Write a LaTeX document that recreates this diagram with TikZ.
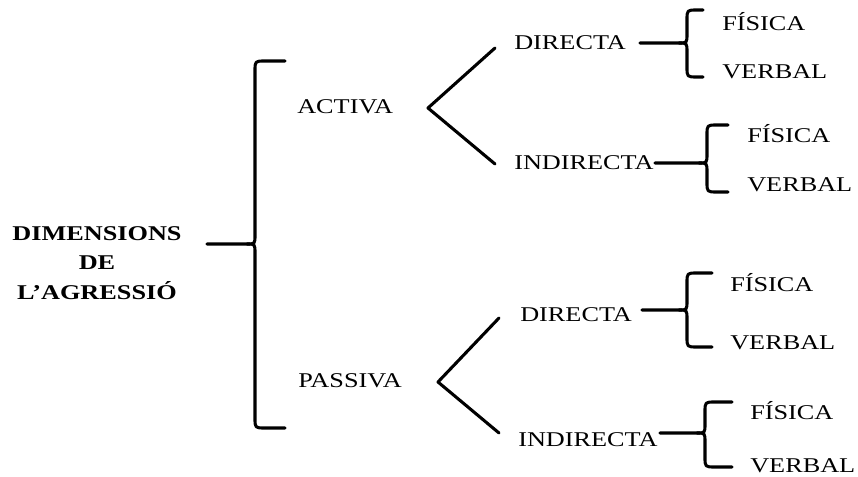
\documentclass[tikz,border=0pt]{standalone}
\usepackage{fontspec}
\setmainfont{Liberation Serif}[FakeStretch=1.25]

\tikzset{
	txt/.style={anchor=base west, inner sep=0pt, font=\fontsize{15.75}{22}\selectfont},
	ratlla/.style={line width=2.3pt, line cap=round, line join=round},
}
% clau: inici de la tija, x vertical, y punta, y dalt, y baix, x extrems
\newcommand{\clau}[6]{%
	\draw[ratlla] (#1,#3) -- (#2-8,#3) .. controls (#2,#3) .. (#2,#3-9) -- (#2,#4+10) .. controls (#2,#4) .. (#2+10,#4) -- (#6,#4);
	\draw[ratlla] (#2-8,#3) .. controls (#2,#3) .. (#2,#3+9) -- (#2,#5-10) .. controls (#2,#5) .. (#2+10,#5) -- (#6,#5);}

\begin{document}
\begin{tikzpicture}[x=0.75pt,y=-0.75pt]
	\useasboundingbox (0,0) rectangle (858,477);
	\node[txt, anchor=center, align=center, font=\fontsize{15.75}{22.1}\selectfont\bfseries] (dim) at (97,263) {DIMENSIONS\\DE\\L’AGRESSIÓ};
		\node[txt] (A) at (297,114) {ACTIVA};
		\node[txt] (P) at (298,388) {PASSIVA};
		\node[txt] (AD) at (514,50) {DIRECTA};
		\node[txt] (AI) at (514,170) {INDIRECTA};
		\node[txt] (PD) at (520,321.7) {DIRECTA};
		\node[txt] (PI) at (518,446.7) {INDIRECTA};
		\node[txt] (ADf) at (722,30.7) {FÍSICA};
		\node[txt] (ADv) at (722,79) {VERBAL};
		\node[txt] (AIf) at (747,143) {FÍSICA};
		\node[txt] (AIv) at (747,191.7) {VERBAL};
		\node[txt] (PDf) at (730,291.7) {FÍSICA};
		\node[txt] (PDv) at (730,350) {VERBAL};
		\node[txt] (PIf) at (750,420) {FÍSICA};
		\node[txt] (PIv) at (750,473) {VERBAL};
	% angles
		\coordinate (Ak) at (428,108);
		\coordinate (Pk) at (438,382);
		\draw[ratlla] (495,48) -- (Ak) -- (495,164);
		\draw[ratlla] (499,318) -- (Pk) -- (499,433);
	% claus
		\clau{207}{255}{244}{61}{428}{285}
		\clau{640}{687}{43}{10}{77}{703}
		\clau{655}{707}{163}{125}{192}{728}
		\clau{642}{687}{310}{273}{347}{712}
		\clau{660}{705}{433}{402}{467}{732}
\end{tikzpicture}
\end{document}
